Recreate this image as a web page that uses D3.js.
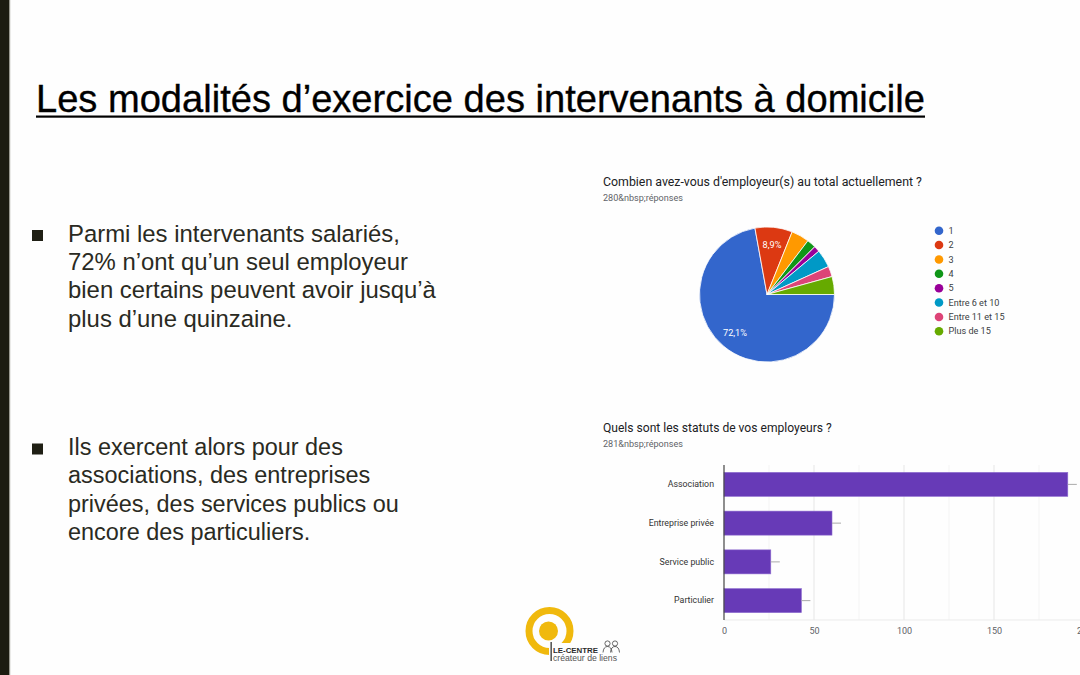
<!DOCTYPE html>
<html><head><meta charset="utf-8">
<script src="https://cdn.jsdelivr.net/npm/d3@7/dist/d3.min.js"></script>
<style>html,body{margin:0;padding:0;background:#fff;overflow:hidden}svg{display:block}</style>
</head><body>
<svg id="c" width="1080" height="675"></svg>
<script>
// ---- data ----
const slideTitle = "Les modalités d’exercice des intervenants à domicile";
const bullet1 = ["Parmi les intervenants salariés,", "72% n’ont qu’un seul employeur", "bien certains peuvent avoir jusqu’à", "plus d’une quinzaine."];
const bullet2 = ["Ils exercent alors pour des", "associations, des entreprises", "privées, des services publics ou", "encore des particuliers."];

const pieTitle = "Combien avez-vous d'employeur(s) au total actuellement ?";
const pieSubtitle = "280&nbsp;réponses";
const pieCategories = ["1", "2", "3", "4", "5", "Entre 6 et 10", "Entre 11 et 15", "Plus de 15"];
const pieValues = [202, 25, 12, 6, 4, 12, 7, 12];
const pieLabels = ["72,1%", "8,9%", "", "", "", "", "", ""];
const pieColors = ["#3366cc", "#dc3912", "#ff9900", "#109618", "#990099", "#0099c6", "#dd4477", "#66aa00"];

const barTitle = "Quels sont les statuts de vos employeurs ?";
const barSubtitle = "281&nbsp;réponses";
const barCategories = ["Association", "Entreprise privée", "Service public", "Particulier"];
const barValues = [191, 60, 26, 43];
const barErr = [5, 5, 5, 5];
const barTicks = [0, 50, 100, 150, 200];
const barMinorTicks = [25, 75, 125, 175];

// ---- drawing ----
const svg = d3.select("#c");
svg.append("rect").attr("width", 1080).attr("height", 675).attr("fill", "#fefefe");
svg.append("rect").attr("x", 0).attr("y", 0).attr("width", 9).attr("height", 675).attr("fill", "#1c1c10");
svg.append("rect").attr("x", 9).attr("y", 0).attr("width", 1.2).attr("height", 675).attr("fill", "#9a9a90");

function fit(sel, w) {
  const fs = parseFloat(sel.attr("font-size"));
  const len = sel.node().getComputedTextLength();
  sel.attr("font-size", (fs * w / len).toFixed(2));
  return sel;
}

// title
const t = svg.append("text").attr("x", 36).attr("y", 111.5)
  .attr("font-family", "Liberation Sans, Arial, sans-serif").attr("font-size", 33)
  .attr("fill", "#000").attr("stroke", "#000").attr("stroke-width", 0.35).text(slideTitle);
fit(t, 889);
svg.append("rect").attr("x", 36).attr("y", 115.5).attr("width", 889).attr("height", 2.2).attr("fill", "#000");

// bullets
function bulletBlock(lines, y0, widest, widestW) {
  svg.append("rect").attr("x", 32).attr("y", y0 - 11.5).attr("width", 11).attr("height", 11).attr("fill", "#1f1f14");
  const probe = svg.append("text").attr("font-family", "Liberation Sans, Arial, sans-serif").attr("font-size", 22).text(lines[widest]);
  fit(probe, widestW);
  const fs = probe.attr("font-size"); probe.remove();
  lines.forEach((l, i) => {
    svg.append("text").attr("x", 68).attr("y", y0 + i * 28.4)
      .attr("font-family", "Liberation Sans, Arial, sans-serif").attr("font-size", fs)
      .attr("fill", "#2a2a22").text(l);
  });
}
bulletBlock(bullet1, 241.5, 2, 368);
bulletBlock(bullet2, 455, 2, 331);

// chart text helper
function chartTitle(txt, y) {
  return svg.append("text").attr("x", 603).attr("y", y).attr("font-family", "Roboto, sans-serif")
    .attr("font-size", 11.5).attr("fill", "#202124").text(txt);
}
fit(chartTitle(pieTitle, 186), 319);
fit(svg.append("text").attr("x", 603).attr("y", 200.5).attr("font-family", "Roboto, sans-serif")
  .attr("font-size", 8.5).attr("fill", "#5f6368").text(pieSubtitle), 80);
fit(chartTitle(barTitle, 432), 229);
fit(svg.append("text").attr("x", 603).attr("y", 447).attr("font-family", "Roboto, sans-serif")
  .attr("font-size", 8.5).attr("fill", "#5f6368").text(barSubtitle), 80);

// ---- pie ----
const cx = 767, cy = 294.5, R = 67.5;
const pie = d3.pie().sort(null).startAngle(Math.PI / 2).endAngle(Math.PI / 2 + 2 * Math.PI);
const arcs = pie(pieValues);
const arc = d3.arc().innerRadius(0).outerRadius(R);
const labelArc = d3.arc().innerRadius(R * 0.74).outerRadius(R * 0.74);
const pg = svg.append("g").attr("transform", `translate(${cx},${cy})`);
pg.selectAll("path").data(arcs).join("path").attr("d", arc)
  .attr("fill", (d, i) => pieColors[i]).attr("stroke", "#fff").attr("stroke-width", 0.8);
pg.selectAll("text").data(arcs).join("text")
  .attr("transform", d => `translate(${labelArc.centroid(d)})`)
  .attr("text-anchor", "middle").attr("dy", "0.35em")
  .attr("font-family", "Roboto, sans-serif").attr("font-size", 9.2).attr("fill", "#fff")
  .text((d, i) => pieLabels[i]);

// legend
const lg = svg.append("g");
const ly = d3.scalePoint().domain(pieCategories).range([230.7, 331.3]);
pieCategories.forEach((c, i) => {
  lg.append("circle").attr("cx", 939).attr("cy", ly(c)).attr("r", 4.3).attr("fill", pieColors[i]);
  lg.append("text").attr("x", 948.5).attr("y", ly(c)).attr("dy", "0.35em")
    .attr("font-family", "Roboto, sans-serif").attr("font-size", 9.1).attr("fill", "#3c4043").text(c);
});

// ---- bar chart ----
const x = d3.scaleLinear().domain([0, 200]).range([724, 1084]);
const y = d3.scaleBand().domain(barCategories).range([465, 620]).paddingInner(0.38).paddingOuter(0.19);
const bg = svg.append("g");
bg.selectAll("line.minor").data(barMinorTicks).join("line").attr("class", "minor")
  .attr("x1", d => x(d)).attr("x2", d => x(d)).attr("y1", 465).attr("y2", 620)
  .attr("stroke", "#f4f4f4").attr("stroke-width", 1);
bg.selectAll("line.major").data(barTicks.slice(1)).join("line").attr("class", "major")
  .attr("x1", d => x(d)).attr("x2", d => x(d)).attr("y1", 465).attr("y2", 620)
  .attr("stroke", "#e6e6e6").attr("stroke-width", 1);
bg.append("line").attr("x1", 724).attr("x2", 1080).attr("y1", 620).attr("y2", 620).attr("stroke", "#ebebeb");

bg.selectAll("rect.bar").data(barValues).join("rect").attr("class", "bar")
  .attr("x", x(0)).attr("y", (d, i) => y(barCategories[i]))
  .attr("width", d => x(d) - x(0)).attr("height", y.bandwidth())
  .attr("fill", "#673ab7").attr("stroke", "#8e6cd0").attr("stroke-width", 0.6);
bg.selectAll("line.err").data(barValues).join("line").attr("class", "err")
  .attr("x1", d => x(d)).attr("x2", (d, i) => x(d + barErr[i]))
  .attr("y1", (d, i) => y(barCategories[i]) + y.bandwidth() / 2)
  .attr("y2", (d, i) => y(barCategories[i]) + y.bandwidth() / 2)
  .attr("stroke", "#aaaaaa").attr("stroke-width", 1);
bg.append("line").attr("x1", 724).attr("x2", 724).attr("y1", 465).attr("y2", 620).attr("stroke", "#444").attr("stroke-width", 1.2);

// x axis labels
const xa = d3.axisBottom(x).tickValues(barTicks).tickSize(0).tickPadding(8);
const xg = svg.append("g").attr("transform", "translate(0,620)").call(xa);
xg.select(".domain").remove();
xg.selectAll("text").attr("font-family", "Roboto, sans-serif").attr("font-size", 9).attr("fill", "#5f6368");
// y axis labels
const ya = d3.axisLeft(y).tickSize(0).tickPadding(10);
const yg = svg.append("g").attr("transform", "translate(724,0)").call(ya);
yg.select(".domain").remove();
yg.selectAll("text").attr("font-family", "Roboto, sans-serif").attr("font-size", 8.8).attr("fill", "#333");

// ---- logo ----
const logo = svg.append("g");
logo.append("circle").attr("cx", 549.5).attr("cy", 631).attr("r", 20.5).attr("fill", "none").attr("stroke", "#f0b90d").attr("stroke-width", 7);
logo.append("circle").attr("cx", 548.5).attr("cy", 631).attr("r", 9.5).attr("fill", "#f0b90d");
logo.append("rect").attr("x", 549).attr("y", 643).attr("width", 48).attr("height", 18).attr("fill", "#fefefe");
logo.append("rect").attr("x", 550.5).attr("y", 642).attr("width", 1.3).attr("height", 19).attr("fill", "#333");
fit(logo.append("text").attr("x", 553).attr("y", 652.5).attr("font-family", "Liberation Sans, Arial, sans-serif").attr("font-weight", "bold")
  .attr("font-size", 8.5).attr("fill", "#2b2b2b").text("LE-CENTRE"), 45);
fit(logo.append("text").attr("x", 553).attr("y", 660.5).attr("font-family", "Liberation Sans, Arial, sans-serif")
  .attr("font-size", 7.6).attr("fill", "#555").text("créateur de liens"), 64);
// people icon
[[607.5, 643.5], [615, 643.5]].forEach(([px, py]) => {
  logo.append("circle").attr("cx", px).attr("cy", py).attr("r", 2.6).attr("fill", "none").attr("stroke", "#444").attr("stroke-width", 0.8);
  logo.append("path").attr("d", `M${px - 4.5},${py + 9} Q${px - 4},${py + 3} ${px},${py + 3} Q${px + 4},${py + 3} ${px + 4.5},${py + 9}`)
    .attr("fill", "none").attr("stroke", "#444").attr("stroke-width", 0.8);
});
</script>
</body></html>
